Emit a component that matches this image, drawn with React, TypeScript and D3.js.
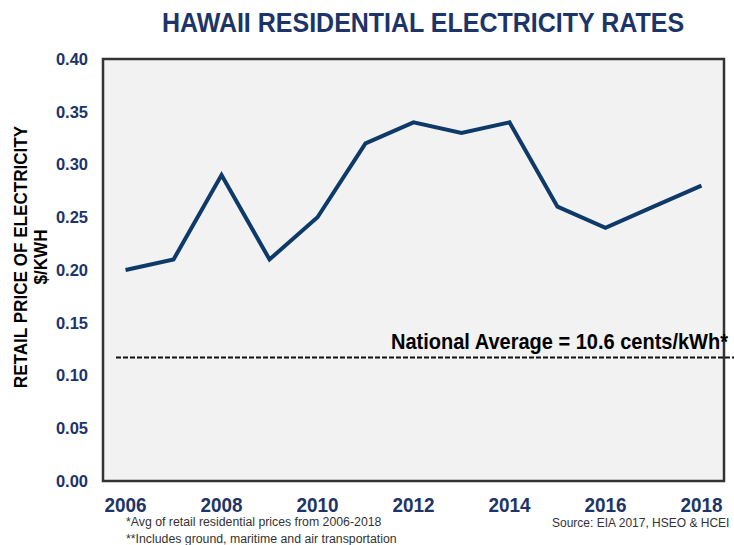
import React from "react";
import * as d3 from "d3";

const years = [2006, 2007, 2008, 2009, 2010, 2011, 2012, 2013, 2014, 2015, 2016, 2017, 2018];
const rates = [0.2, 0.21, 0.29, 0.21, 0.25, 0.32, 0.34, 0.33, 0.34, 0.26, 0.24, 0.26, 0.28];
const yTicks = [0, 0.05, 0.1, 0.15, 0.2, 0.25, 0.3, 0.35, 0.4];
const xTickYears = [2006, 2008, 2010, 2012, 2014, 2016, 2018];
const nationalAverage = 0.117;
const title = "HAWAII RESIDENTIAL ELECTRICITY RATES";
const yLabel1 = "RETAIL PRICE OF ELECTRICITY";
const yLabel2 = "$/KWH";
const avgLabel = "National Average = 10.6 cents/kWh*";
const note1 = "*Avg of retail residential prices from 2006-2018";
const note2 = "**Includes ground, maritime and air transportation";
const source = "Source: EIA 2017, HSEO & HCEI";

const W = 734, H = 545;
const plot = { left: 103, right: 724, top: 59, bottom: 481 };
const navy = "#1c3468";
const lineColor = "#0e3a6a";

export default function App() {
  const x = d3.scalePoint<number>().domain(years).range([plot.left, plot.right]).padding(0.47);
  const y = d3.scaleLinear().domain([0, 0.4]).range([plot.bottom, plot.top]);
  const line = d3.line<number>().x((_, i) => x(years[i])!).y((d) => y(d));
  const sans = "'Liberation Sans', Arial, sans-serif";
  const avgY = y(nationalAverage);
  return (
    <svg width={W} height={H} style={{ position: "absolute", left: 0, top: 0 }}>
      <rect width={W} height={H} fill="#ffffff" />
      <text transform="translate(423,32) scale(0.893,1)" textAnchor="middle" fontFamily={sans} fontWeight="bold"
        fontSize={28} fill={navy}>{title}</text>
      <rect x={plot.left} y={plot.top} width={plot.right - plot.left} height={plot.bottom - plot.top}
        fill="#f2f2f2" stroke="#333" strokeWidth={2.5} />
      {yTicks.map((t) => (
        <text key={t} x={88} y={y(t)} dy="0.36em" textAnchor="end" fontFamily={sans} fontWeight="bold"
          fontSize={16.5} fill={navy}>{t.toFixed(2)}</text>
      ))}
      {xTickYears.map((yr) => (
        <text key={yr} transform={`translate(${x(yr)},512) scale(0.9,1)`} textAnchor="middle" fontFamily={sans}
          fontWeight="bold" fontSize={21} fill={navy}>{yr}</text>
      ))}
      <g transform="translate(26.5,257) rotate(-90) scale(0.95,1)">
        <text x={0} y={0} textAnchor="middle" fontFamily={sans} fontWeight="bold" fontSize={18} fill="#000">{yLabel1}</text>
        <text x={0} y={21} textAnchor="middle" fontFamily={sans} fontWeight="bold" fontSize={18} fill="#000">{yLabel2}</text>
      </g>
      <line x1={116} x2={734} y1={avgY} y2={avgY} stroke="#111" strokeWidth={2} strokeDasharray="5,2" />
      <text transform={`translate(728,${avgY - 9}) scale(0.91,1)`} textAnchor="end" fontFamily={sans}
        fontWeight="bold" fontSize={22} fill="#000">{avgLabel}</text>
      <path d={line(rates)!} fill="none" stroke={lineColor} strokeWidth={4} strokeLinejoin="miter" />
      <text x={126} y={526} fontFamily={sans} fontSize={12.3} fill="#333">{note1}</text>
      <text x={126} y={543} fontFamily={sans} fontSize={12.3} fill="#333">{note2}</text>
      <text x={552} y={527} fontFamily={sans} fontSize={12} fill="#333">{source}</text>
    </svg>
  );
}
